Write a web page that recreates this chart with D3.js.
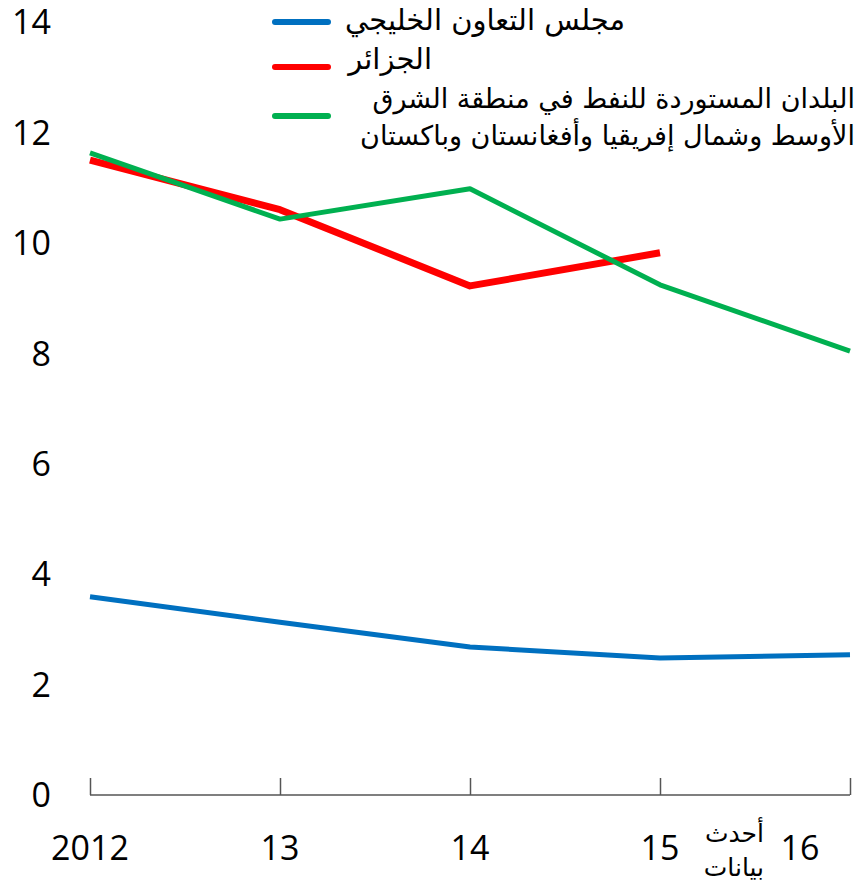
<!DOCTYPE html>
<html>
<head>
<meta charset="utf-8">
<script src="https://cdn.jsdelivr.net/npm/d3@7"></script>
<style>
  body { margin: 0; background: #fff; }
  text { font-family: "Open Sans", "DejaVu Sans", sans-serif; fill: #000; }
  .ar { font-family: "DejaVu Sans", "Noto Sans", sans-serif; }
</style>
</head>
<body>
<div id="chart"></div>
<script>
const years = ['2012', '13', '14', '15', '16']
const yTicks = [0, 2, 4, 6, 8, 10, 12, 14]
const lastNote = ['أحدث', 'بيانات']

const gcc = [3.59, 3.13, 2.68, 2.48, 2.54]
const algeria = [11.50, 10.60, 9.22, 9.82]
const menap = [11.63, 10.43, 10.98, 9.24, 8.04]

const seriesNames = ['مجلس التعاون الخليجي', 'الجزائر', ['البلدان المستوردة للنفط في منطقة الشرق', 'الأوسط وشمال إفريقيا وأفغانستان وباكستان']]

const width = 858
const height = 887

const svg = d3.select('#chart')
    .append('svg')
    .attr('width', width)
    .attr('height', height)

const x = d3.scalePoint()
    .domain(years)
    .range([90, 850])

const y = d3.scaleLinear()
    .domain([0, 14])
    .range([795, 22])

// x axis: baseline with ticks pointing up
const xAxis = svg.append('g')
    .attr('transform', 'translate(0,795)')
    .call(d3.axisTop(x).tickSize(17).tickFormat(''))
xAxis.select('.domain').attr('stroke', '#555').attr('stroke-width', 1.5).attr('d', 'M90,0H850')
xAxis.selectAll('.tick line').attr('stroke', '#555').attr('stroke-width', 1.5)

svg.append('g')
    .selectAll('text')
    .data(years)
    .enter().append('text')
    .attr('x', (d, i) => i === years.length - 1 ? x(d) - 50 : x(d))
    .attr('y', 860)
    .attr('text-anchor', 'middle')
    .style('font-size', '34px')
    .text(d => d)

svg.append('g')
    .selectAll('text')
    .data(lastNote)
    .enter().append('text')
    .attr('class', 'ar')
    .attr('x', 764)
    .attr('y', (d, i) => 842 + i * 34)
    .attr('text-anchor', 'end')
    .style('font-size', '25px')
    .text(d => d)

// y labels, no axis line
svg.append('g')
    .selectAll('text')
    .data(yTicks)
    .enter().append('text')
    .attr('x', 51)
    .attr('y', d => y(d))
    .attr('dy', '0.36em')
    .attr('text-anchor', 'end')
    .style('font-size', '34px')
    .text(d => d)

const line = d3.line()
    .x((d, i) => x(years[i]))
    .y(d => y(d))

const series = [
    { values: gcc, color: '#0070C0', w: 5 },
    { values: algeria, color: '#FF0000', w: 7 },
    { values: menap, color: '#00B050', w: 5 }
]

svg.append('g')
    .selectAll('path')
    .data(series)
    .enter().append('path')
    .attr('d', d => line(d.values))
    .attr('fill', 'none')
    .attr('stroke', d => d.color)
    .attr('stroke-width', d => d.w)
    .attr('stroke-linejoin', 'round')

// legend
const legendY = [22, 67, 116]
const legend = svg.append('g')
legend.selectAll('line')
    .data(series)
    .enter().append('line')
    .attr('x1', 275)
    .attr('x2', 328)
    .attr('y1', (d, i) => legendY[i])
    .attr('y2', (d, i) => legendY[i])
    .attr('stroke', d => d.color)
    .attr('stroke-width', 6)
    .attr('stroke-linecap', 'round')

const legendText = [
    { t: seriesNames[0], x: 625, y: 30, s: 29 },
    { t: seriesNames[1], x: 432, y: 69, s: 29 },
    { t: seriesNames[2][0], x: 855, y: 108, s: 27 },
    { t: seriesNames[2][1], x: 855, y: 145, s: 27 }
]
legend.selectAll('text')
    .data(legendText)
    .enter().append('text')
    .attr('class', 'ar')
    .attr('x', d => d.x)
    .attr('y', d => d.y)
    .attr('text-anchor', 'end')
    .style('font-size', d => d.s + 'px')
    .text(d => d.t)
</script>
</body>
</html>
